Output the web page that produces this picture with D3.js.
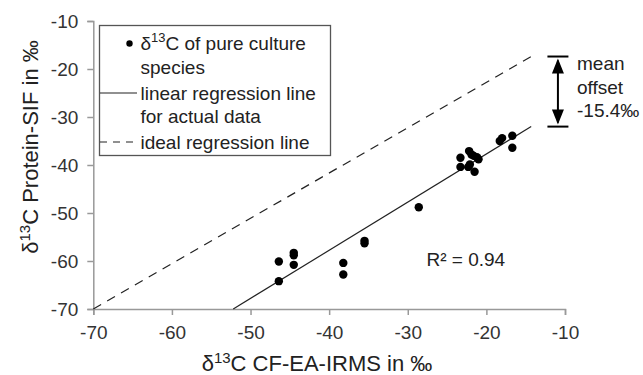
<!DOCTYPE html>
<html>
<head>
<meta charset="utf-8">
<script src="https://cdn.jsdelivr.net/npm/d3@7"></script>
<style>
  body { margin: 0; background: #fff; }
  svg { font-family: "Liberation Sans", Arial, sans-serif; }
  .tick text { fill: #333; font-size: 19px; }
  .tick line, .domain { stroke: #999; stroke-width: 1.5px; }
</style>
</head>
<body>
<div id="chart"></div>
<script>
// measured values (per mil)
const cfX = [-23.3, -23.3, -22.2, -22.1, -21.9, -21.6, -21.2, -21.0, -21.5, -22.3,
  -18.3, -18.0, -16.7, -16.7, -28.6,
  -46.4, -46.4, -44.5, -44.5, -44.5, -38.2, -38.2, -35.5, -35.5]
const sifY = [-38.5, -40.4, -37.1, -39.9, -37.8, -38.1, -38.4, -38.8, -41.4, -40.4,
  -35.0, -34.4, -33.9, -36.4, -48.8,
  -60.1, -64.2, -58.3, -58.8, -60.8, -60.4, -62.8, -55.8, -56.3]

const regLine = [[-52.2, -70], [-14.3, -32.0]]
const idealLine = [[-70, -70], [-14.3, -17.4]]
const xTicks = [-70, -60, -50, -40, -30, -20, -10]
const yTicks = [-70, -60, -50, -40, -30, -20, -10]
const offsetLabel = ['mean', 'offset', '-15.4‰']
const rSquared = 'R² = 0.94'

const width = 643
const height = 375
const margin = { left: 93.3, right: 78, top: 21, bottom: 66 }

const svg = d3.select('#chart')
  .append('svg')
  .attr('width', width)
  .attr('height', height)

const x = d3.scaleLinear().domain([-70, -10]).range([margin.left, width - margin.right])
const y = d3.scaleLinear().domain([-70, -10]).range([height - margin.bottom, margin.top])
const fmt = (d) => String(d)

const xAxis = svg.append('g')
  .attr('transform', `translate(0, ${y(-70)})`)
  .call(d3.axisBottom(x).tickValues(xTicks).tickFormat(fmt).tickSize(6).tickPadding(8))
xAxis.selectAll('.tick text').attr('dy', null).attr('y', 30)

const yAxis = svg.append('g')
  .attr('transform', `translate(${x(-70)}, 0)`)
  .call(d3.axisLeft(y).tickValues(yTicks).tickFormat(fmt).tickSize(6).tickPadding(9))
yAxis.selectAll('.tick text').attr('dy', '0.36em')

const line = d3.line().x((d) => x(d[0])).y((d) => y(d[1]))

svg.append('path')
  .attr('d', line(idealLine))
  .attr('fill', 'none')
  .attr('stroke', '#222')
  .attr('stroke-width', 1.2)
  .attr('stroke-dasharray', '9,7')

svg.append('path')
  .attr('d', line(regLine))
  .attr('fill', 'none')
  .attr('stroke', '#222')
  .attr('stroke-width', 1.2)

svg.selectAll('circle.pt')
  .data(cfX.map((v, i) => [v, sifY[i]]))
  .enter()
  .append('circle')
  .attr('class', 'pt')
  .attr('cx', (d) => x(d[0]))
  .attr('cy', (d) => y(d[1]))
  .attr('r', 4.2)
  .attr('fill', '#000')

svg.append('text')
  .attr('x', 426.5)
  .attr('y', 266)
  .attr('font-size', 19)
  .attr('fill', '#222')
  .text(rSquared)

// mean offset arrow
const ax = x(-10.9)
const aTop = y(idealLine[1][1])
const aBot = y(regLine[1][1])
const arrow = svg.append('g').attr('stroke', '#000').attr('stroke-width', 2)
arrow.append('line').attr('x1', ax).attr('x2', ax).attr('y1', aTop + 4).attr('y2', aBot - 4)
arrow.append('line').attr('x1', ax - 10.5).attr('x2', ax + 10.5).attr('y1', aTop).attr('y2', aTop)
arrow.append('line').attr('x1', ax - 10.5).attr('x2', ax + 10.5).attr('y1', aBot).attr('y2', aBot)
svg.append('path')
  .attr('d', `M${ax},${aTop + 2} L${ax - 6},${aTop + 17} L${ax + 6},${aTop + 17} Z`)
  .attr('fill', '#000')
svg.append('path')
  .attr('d', `M${ax},${aBot - 2} L${ax - 6},${aBot - 17} L${ax + 6},${aBot - 17} Z`)
  .attr('fill', '#000')

svg.selectAll('text.offset')
  .data(offsetLabel)
  .enter()
  .append('text')
  .attr('class', 'offset')
  .attr('x', 577)
  .attr('y', (d, i) => 70 + i * 23.5)
  .attr('font-size', 19)
  .attr('fill', '#222')
  .text((d) => d)

// legend
const legend = svg.append('g')
legend.append('rect')
  .attr('x', 99.5)
  .attr('y', 25.5)
  .attr('width', 231)
  .attr('height', 130)
  .attr('fill', '#fff')
  .attr('stroke', '#555')
  .attr('stroke-width', 1.3)

legend.append('circle').attr('cx', 129.5).attr('cy', 43.5).attr('r', 3.2).attr('fill', '#000')
legend.append('line').attr('x1', 100).attr('x2', 137).attr('y1', 93).attr('y2', 93)
  .attr('stroke', '#222').attr('stroke-width', 1.2)
legend.append('line').attr('x1', 100).attr('x2', 137).attr('y1', 142).attr('y2', 142)
  .attr('stroke', '#222').attr('stroke-width', 1.2).attr('stroke-dasharray', '7,6')

function addDelta (sel, rest) {
  sel.append('tspan').text('δ')
  sel.append('tspan').attr('dy', -8).attr('font-size', '0.68em').text('13')
  sel.append('tspan').attr('dy', 8).text(rest)
}

const legendRows = [
  { y: 50, t: ' of pure culture', delta: true },
  { y: 73.5, t: 'species' },
  { y: 100, t: 'linear regression line' },
  { y: 123, t: 'for actual data' },
  { y: 149, t: 'ideal regression line' }
]
legendRows.forEach((r) => {
  const t = legend.append('text')
    .attr('x', 140.5)
    .attr('y', r.y)
    .attr('font-size', 19)
    .attr('fill', '#222')
  if (r.delta) addDelta(t, 'C' + r.t)
  else t.text(r.t)
})

// axis titles
const xt = svg.append('text')
  .attr('x', 317)
  .attr('y', 371)
  .attr('text-anchor', 'middle')
  .attr('font-size', 22)
  .attr('fill', '#222')
addDelta(xt, 'C CF-EA-IRMS in ‰')

const yt = svg.append('text')
  .attr('transform', 'translate(38, 147) rotate(-90)')
  .attr('text-anchor', 'middle')
  .attr('font-size', 22)
  .attr('fill', '#222')
addDelta(yt, 'C Protein-SIF in ‰')
</script>
</body>
</html>
